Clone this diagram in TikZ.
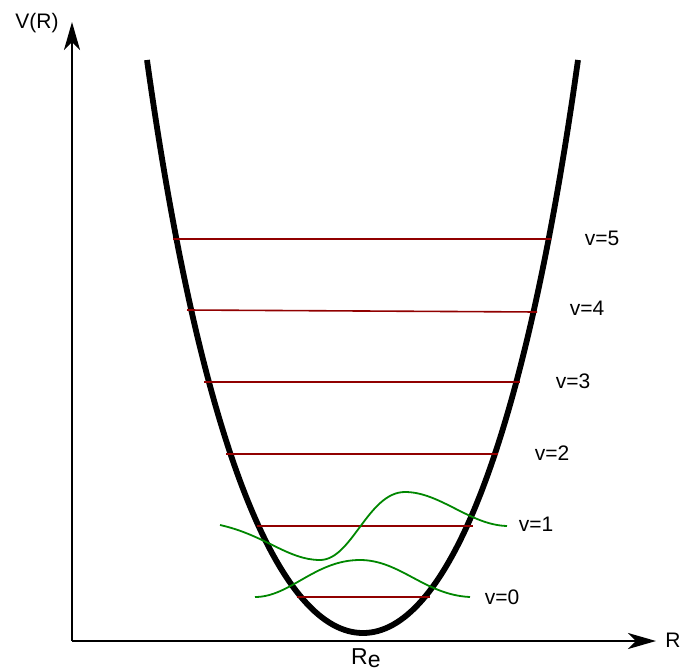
\documentclass[tikz,border=0pt]{standalone}
\usepackage{fontspec}
\setmainfont{Liberation Sans}
\usetikzlibrary{arrows.meta}
\definecolor{levelred}{RGB}{145,0,0}
\definecolor{wavegreen}{RGB}{0,135,0}
\begin{document}
\begin{tikzpicture}[x=1pt,y=-1pt,
  axisline/.style={line width=2.5pt,-{Stealth[length=28pt,width=16pt,inset=8pt]}},
  potential/.style={line width=5.8pt,line join=round},
  level/.style={levelred,line width=1.6pt},
  wave/.style={wavegreen,line width=1.8pt},
  lbl/.style={font=\fontsize{21}{25}\selectfont,inner sep=0pt}]
\useasboundingbox (0,0) rectangle (684,671);
% axes
\coordinate (O) at (72,641);
\coordinate (ytip) at (72,22);
\coordinate (xtip) at (656,641);
\draw[axisline] (O) -- (ytip);
\draw[axisline] (O) -- (xtip);
\node[lbl] (vr) at (37,23) {V(R)};
\node[lbl] (r) at (673,640) {R};
\node[lbl,anchor=base west,font=\fontsize{23}{25}\selectfont] (re) at (351,664) {R\raisebox{-3.5pt}{e}};
% potential curve
\coordinate (ptl) at (147,60);
\coordinate (pb) at (363,633);
\coordinate (ptr) at (578,60);
\draw[potential] (ptl) .. controls (203,460) and (283,633) .. (pb)
  .. controls (443,633) and (522,460) .. (ptr);
% levels
\coordinate (l5a) at (173,239); \coordinate (l5b) at (551,239);
\coordinate (l4a) at (187,310); \coordinate (l4b) at (537,312);
\coordinate (l3a) at (204,382); \coordinate (l3b) at (520,382);
\coordinate (l2a) at (226,454); \coordinate (l2b) at (498,454);
\coordinate (l1a) at (257,526); \coordinate (l1b) at (473,526);
\coordinate (l0a) at (297,597); \coordinate (l0b) at (430,597);
\draw[level] (l5a) -- (l5b);
\draw[level] (l4a) -- (l4b);
\draw[level] (l3a) -- (l3b);
\draw[level] (l2a) -- (l2b);
\draw[level] (l1a) -- (l1b);
\draw[level] (l0a) -- (l0b);
% labels
\node[lbl] (v5) at (602,238) {v=5};
\node[lbl] (v4) at (587,308) {v=4};
\node[lbl] (v3) at (573,381) {v=3};
\node[lbl] (v2) at (552,453) {v=2};
\node[lbl] (v1) at (536,524) {v=1};
\node[lbl] (v0) at (502,597) {v=0};
% wavefunctions
\draw[wave] (220,525) .. controls (265,535) and (288,560) .. (320,560)
  .. controls (352,560) and (368,492) .. (405,492)
  .. controls (440,492) and (470,525) .. (507,526);
\draw[wave] (255,597) .. controls (290,597) and (315,560) .. (360,560)
  .. controls (400,560) and (425,595) .. (470,597);
\end{tikzpicture}
\end{document}
